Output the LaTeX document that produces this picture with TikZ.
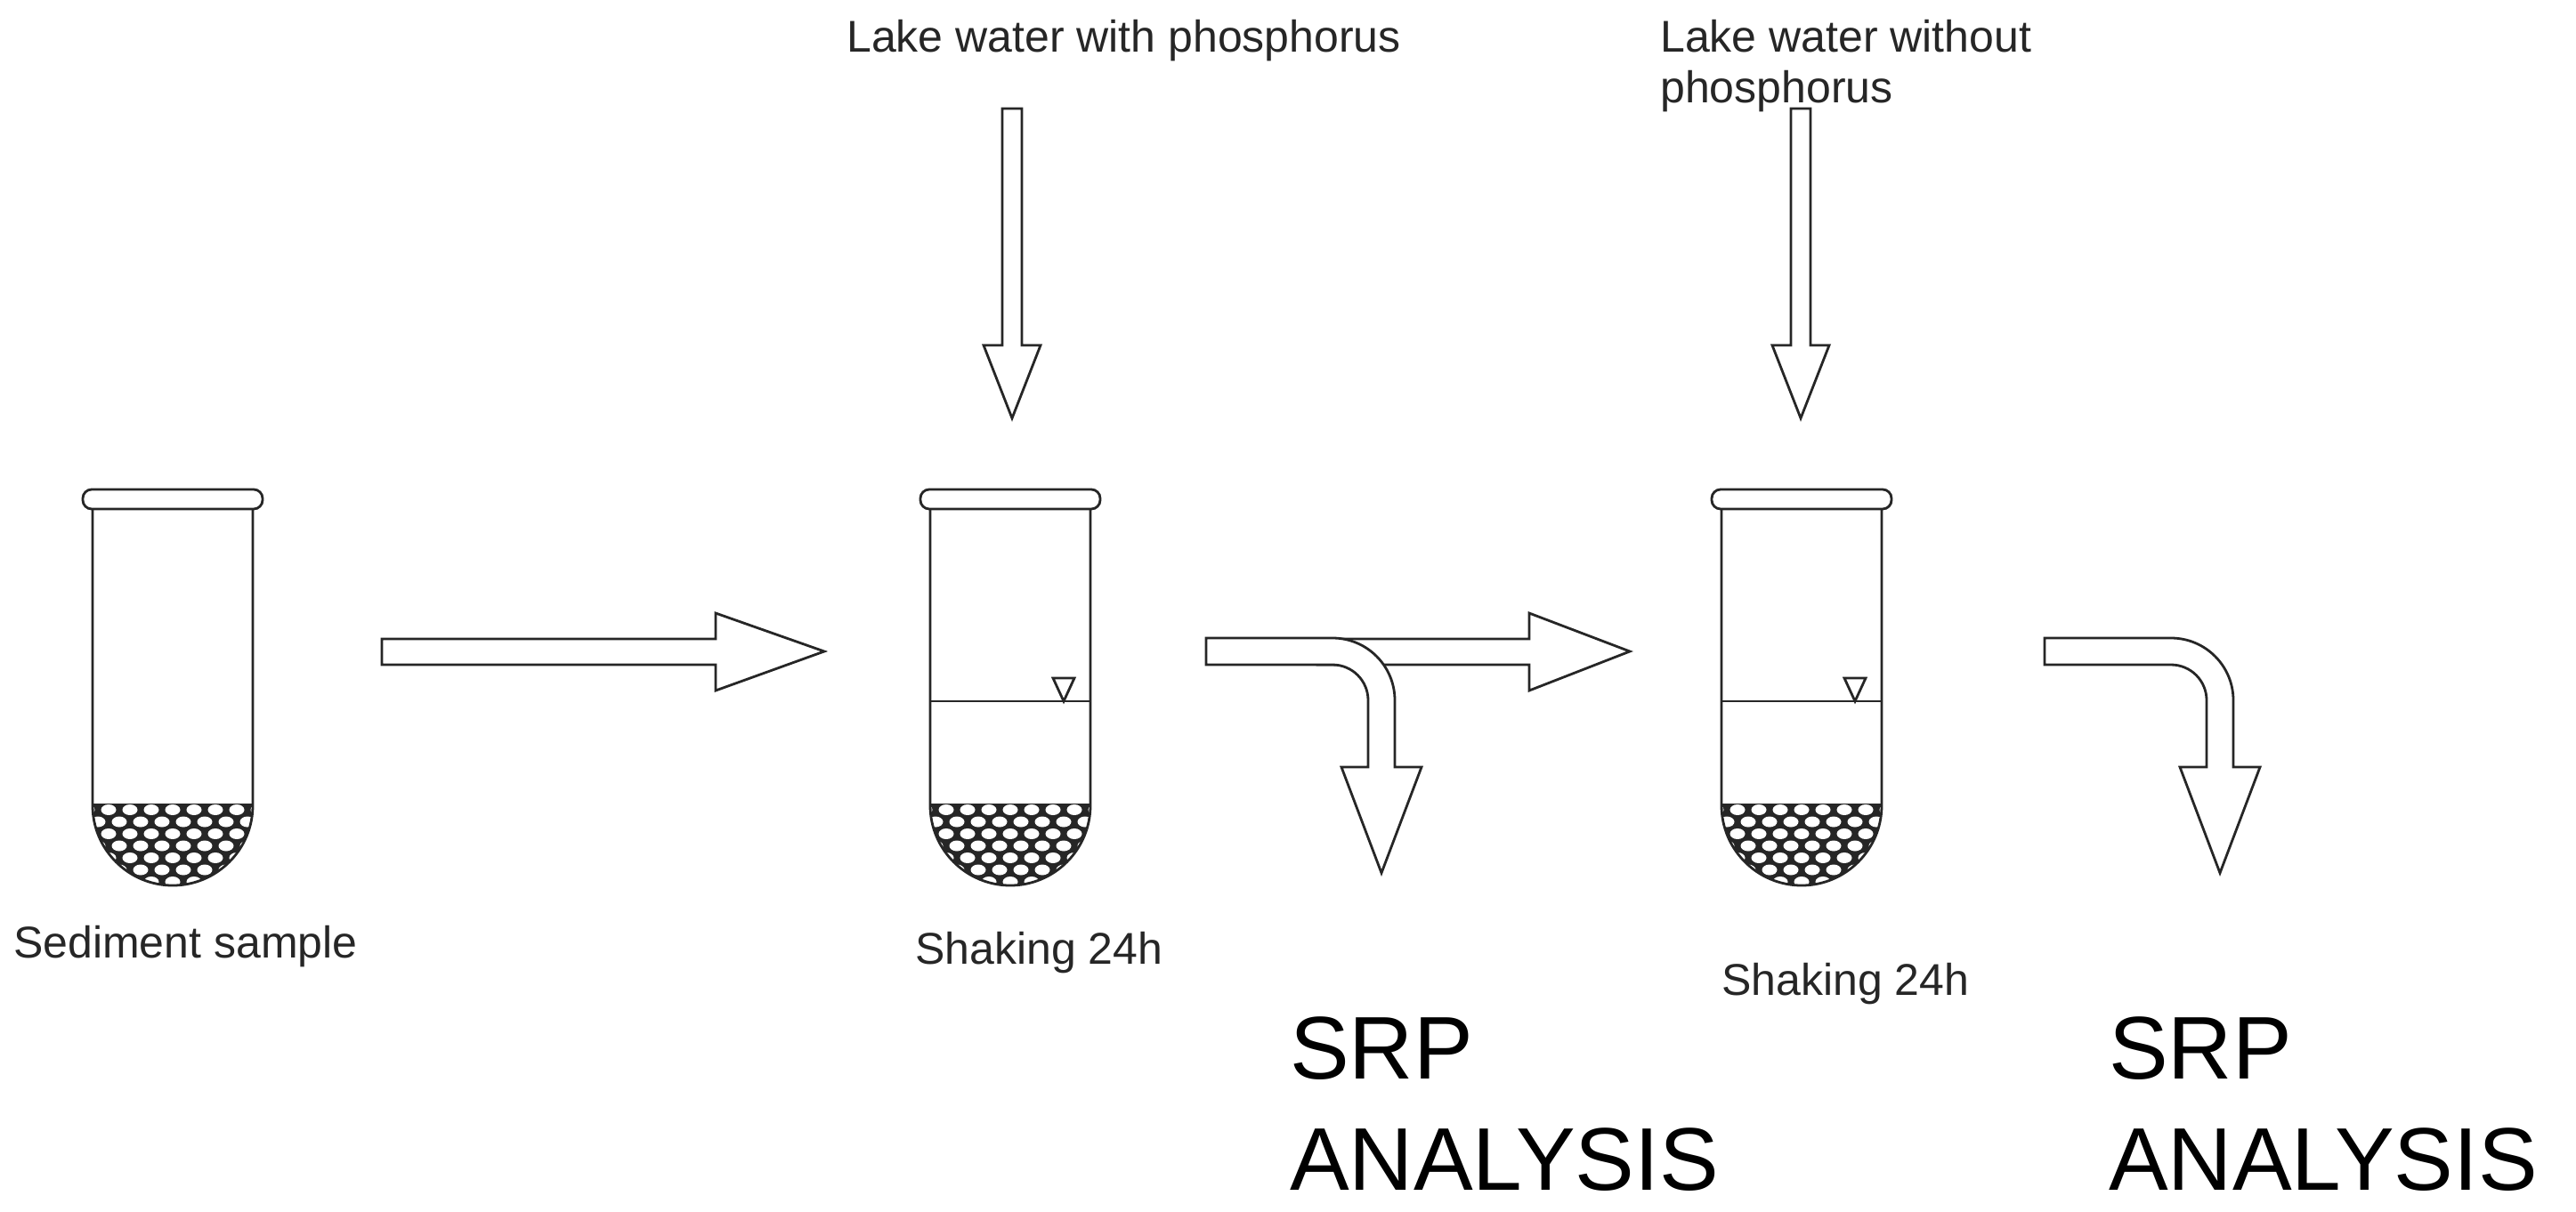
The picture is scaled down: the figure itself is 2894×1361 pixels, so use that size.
\documentclass[tikz,border=0pt]{standalone}
\usepackage{fontspec}
\setmainfont{Liberation Sans}
\begin{document}
\begin{tikzpicture}[x=1pt,y=1pt,
  line/.style={draw=black!85,line width=2.8pt,line join=miter},
  arr/.style={line,fill=white},
  lbl/.style={inner sep=0pt,anchor=base west,font=\fontsize{50}{57}\selectfont,text=black!85},
  big/.style={inner sep=0pt,anchor=base west,align=left,font=\fontsize{100}{125}\selectfont,text=black}]
\useasboundingbox (0,0) rectangle (2894,-1361);
\newcommand\mytube[2]{%
 \begin{scope}[shift={(#1,0)}]
  \begin{scope}
   \clip (-90,-903) -- (90,-903) -- (90,-905) arc(0:-180:90) -- cycle;
   \fill[black!85] (-95,-900) rectangle (95,-1000);
   \foreach \r in {0,...,6}{
     \foreach \k in {-5,...,5}{
       \pgfmathsetmacro\xx{\k*24+mod(\r,2)*12}
       \fill[white] (\xx,-910-\r*13.5) ellipse (8.5 and 6);
     }}
  \end{scope}
  \draw[line] (-90,-572) -- (-90,-905) arc(180:360:90) -- (90,-572);
  \draw[line,fill=white,rounded corners=10pt] (-101,-550) rectangle (101,-572);
  \ifnum#2=1
   \draw[line] (-90,-788) -- (90,-788);
   \draw[line] (48,-762) -- (72,-762) -- (60,-788) -- cycle;
  \fi
 \end{scope}}
\newcommand\mybent[1]{%
 \draw[arr] (#1,-717) -- (#1+142,-717) arc(90:0:70) -- (#1+212,-862) -- (#1+242,-862)
   -- (#1+197,-981) -- (#1+152,-862) -- (#1+182,-862) -- (#1+182,-787) arc(0:90:40)
   -- (#1,-747) -- cycle;}
\mytube{194}{0}
\mytube{1135}{1}
\mytube{2024}{1}
% horizontal arrows
\draw[arr] (429,-718) -- (804,-718) -- (804,-689) -- (926,-732) -- (804,-776) -- (804,-747) -- (429,-747) -- cycle;
\draw[arr] (1480,-718) -- (1718,-718) -- (1718,-689) -- (1831,-732) -- (1718,-776) -- (1718,-747) -- (1480,-747) -- cycle;
\mybent{1355}
\mybent{2297}
% vertical arrows
\foreach \c in {1137,2023}{
 \draw[arr] (\c-11,-122) -- (\c+11,-122) -- (\c+11,-388) -- (\c+32,-388) -- (\c,-470) -- (\c-32,-388) -- (\c-11,-388) -- cycle;}
\node[lbl] (t1) at (951,-58) {Lake water with phosphorus};
\node[lbl,align=left] (t2) at (1865,-115) {Lake water without\\phosphorus};
\node[lbl] (s1) at (15,-1076) {Sediment sample};
\node[lbl] (s2) at (1028,-1083) {Shaking 24h};
\node[lbl] (s3) at (1934,-1118) {Shaking 24h};
\node[big] (a1) at (1449,-1337) {SRP\\ANALYSIS};
\node[big] (a2) at (2369,-1337) {SRP\\ANALYSIS};
\end{tikzpicture}
\end{document}
